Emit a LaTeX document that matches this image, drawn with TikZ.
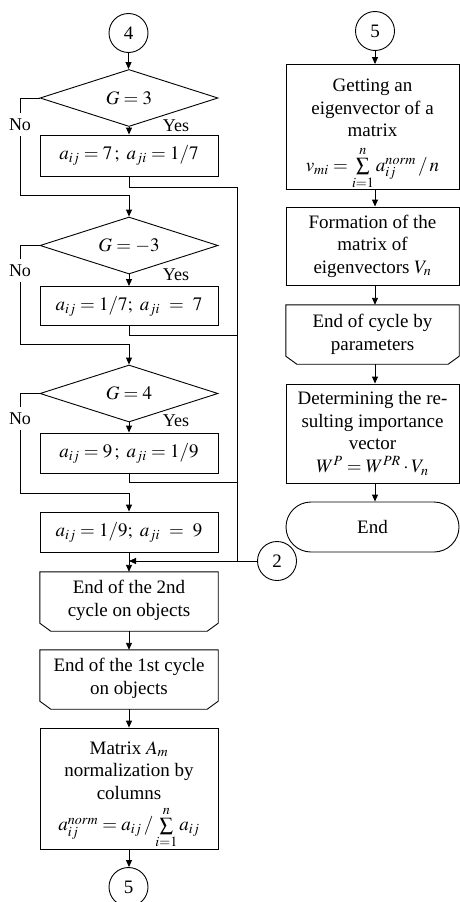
\documentclass[tikz,border=0pt]{standalone}
\usepackage{mathptmx}
\usepackage{fontspec}
\setmainfont{Liberation Serif}
\usetikzlibrary{arrows.meta,shapes.geometric}
\newcommand\loopframe[1]{%
  \draw[line] (#1.north west) -- (#1.north east) -- ([yshift=8pt]#1.south east)
    -- ([xshift=-11pt]#1.south east) -- ([xshift=11pt]#1.south west)
    -- ([yshift=8pt]#1.south west) -- cycle;}
\begin{document}
\begin{tikzpicture}[x=1pt,y=-1pt,
  every node/.style={font=\fontsize{19}{22.5}\selectfont},
  line/.style={line width=0.9pt},
  arr/.style={line, -{Triangle[length=7pt,width=6pt]}},
  box/.style={draw, line width=0.9pt, rectangle, minimum width=178pt, inner sep=0pt, align=center},
  rbox/.style={box, minimum width=173pt},
  loopbox/.style={rectangle, minimum width=178pt, inner sep=0pt, align=center},
  rloopbox/.style={loopbox, minimum width=173pt},
  dec/.style={draw, line width=0.9pt, diamond, aspect=3.12, minimum width=178pt, minimum height=57pt, inner sep=0pt},
  conn/.style={draw, line width=0.9pt, circle, minimum size=39pt, inner sep=0pt},
  nolbl/.style={fill=white, inner xsep=1pt, inner ysep=5.5pt, font=\fontsize{18}{20}\selectfont},
  yeslbl/.style={inner sep=0pt, font=\fontsize{18}{20}\selectfont},
]
\useasboundingbox (0,0) rectangle (460,902);

% ---------- left column ----------
\node[conn] (c4) at (128.5,33) {4};
\node[dec] (d1) at (129,98) {$G=3$};
\node[box, minimum height=41pt] (b1) at (129,155.5) {$a_{ij}=7\,;\ a_{ji}=1/7$};
\node[dec] (d2) at (129,245.5) {$G=-3$};
\node[box, minimum height=39pt] (b2) at (129,306) {$a_{ij}=1/7;\ a_{ji}\ =\ 7$};
\node[dec] (d3) at (129,393.5) {$G=4$};
\node[box, minimum height=40pt] (b3) at (129,453) {$a_{ij}=9\,;\ a_{ji}=1/9$};
\node[box, minimum height=40pt] (b4) at (129,532) {$a_{ij}=1/9;\ a_{ji}\ =\ 9$};
\node[loopbox, minimum height=59pt] (b5) at (129,601.5) {End of the 2nd\\cycle on objects\\[-16pt]\mbox{}};
\node[loopbox, minimum height=59pt] (b6) at (129,679.5) {End of the 1st cycle\\on objects\\[-16pt]\mbox{}};
\loopframe{b5}
\loopframe{b6}
\node[box, minimum height=117pt] (b7) at (129,788.5) {\rule{0pt}{26pt}Matrix $A_m$\\normalization by\\columns\\[6pt]$a_{ij}^{norm}=a_{ij}\,/\sum\limits_{i=1}^{n}a_{ij}$};
\node[conn] (c5b) at (128.5,887) {5};
\node[conn] (c2) at (277,561) {2};

\coordinate (m1) at (129,195);
\coordinate (m2) at (129,344);
\coordinate (m3) at (129,493);
\coordinate (bus1) at (237,187);
\coordinate (bus2) at (237,335);
\coordinate (bus3) at (237,482);
\coordinate (bus4) at (237,561);

\draw[arr] (c4.south) -- (c4.south |- d1.north);
\draw[arr] (d1.south) -- (b1.north);
\draw[arr] (d2.south) -- (b2.north);
\draw[arr] (d3.south) -- (b3.north);

\node[yeslbl] (y1) at (176,126) {Yes};
\node[yeslbl] (y2) at (176,275) {Yes};
\node[yeslbl] (y3) at (176,421) {Yes};

\node[nolbl] (n1) at (20,124.5) {No};
\node[nolbl] (n2) at (20,270.5) {No};
\node[nolbl] (n3) at (20,418.5) {No};

\draw[line] (d1.west) -| (n1.north);
\draw[arr] (n1.south) |- (m1) -- (d2.north);
\draw[line] (d2.west) -| (n2.north);
\draw[arr] (n2.south) |- (m2) -- (d3.north);
\draw[line] (d3.west) -| (n3.north);
\draw[arr] (n3.south) |- (m3) -- (b4.north);

\draw[line] (b1.south) |- (bus1);
\draw[line] (b2.south) |- (bus2);
\draw[line] (b3.south) |- (bus3);
\draw[line] (bus1) -- (bus4) -- (c2.west);
\draw[arr] (c2.west) -- (b4.south |- c2.west);

\draw[arr] (b4.south) -- (b5.north);
\draw[arr] (b5.south) -- (b6.north);
\draw[arr] (b6.south) -- (b7.north);
\draw[arr] (b7.south) -- (b7.south |- c5b.north);

% ---------- right column ----------
\node[conn] (c5) at (375,31) {5};
\node[rbox, minimum height=118pt] (b8) at (372.5,127) {\rule{0pt}{27pt}Getting an\\eigenvector of a\\matrix\\[9pt]$v_{mi}=\sum\limits_{i=1}^{n}a_{ij}^{norm}\,/\,n$};
\node[rbox, minimum height=78pt] (b9) at (372.5,246) {Formation of the\\matrix of\\eigenvectors $V_n$};
\node[rloopbox, minimum height=59pt] (b10) at (372.5,334.5) {End of cycle by\\parameters\\[-18pt]\mbox{}};
\loopframe{b10}
\node[rbox, minimum height=99pt] (b11) at (372.5,433.5) {Determining the re-\\sulting importance\\vector\\$W^{P}=W^{PR}\cdot V_n$};
\node[rbox, rounded corners=25pt, minimum height=50pt] (term) at (372.5,527) {End};

\draw[arr] (c5.south) -- (c5.south |- b8.north);
\draw[arr] (c5.south |- b8.south) -- (c5.south |- b9.north);
\draw[arr] (c5.south |- b9.south) -- (c5.south |- b10.north);
\draw[arr] (c5.south |- b10.south) -- (c5.south |- b11.north);
\draw[arr] (c5.south |- b11.south) -- (c5.south |- term.north);
\end{tikzpicture}
\end{document}
